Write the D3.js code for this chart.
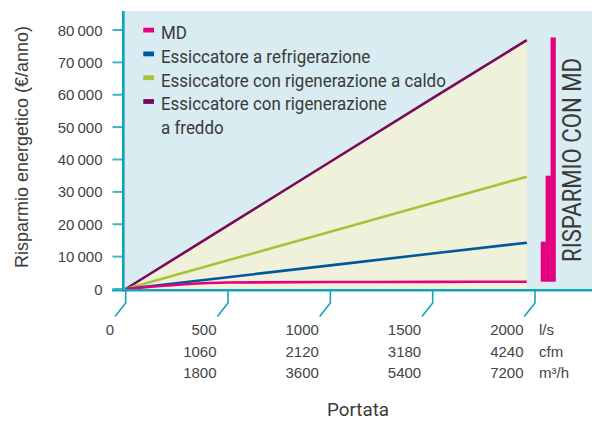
<!DOCTYPE html>
<html><head><meta charset="utf-8">
<script src="https://cdn.jsdelivr.net/npm/d3@7"></script>
<style>
html,body{margin:0;padding:0;background:#fff;}
svg{display:block;}
</style></head>
<body>
<script>
// ---- data ----
const flowLs = [0, 500, 1000, 1500, 1960];
const mdValues = [0, 2000, 2150, 2200, 2250];
const refrigValues = [0, 3650, 7300, 10950, 14300];
const caldoValues = [0, 8850, 17700, 26550, 34700];
const freddoValues = [0, 19650, 39300, 58950, 76900];
const seriesNames = ["MD", "Essiccatore a refrigerazione", "Essiccatore con rigenerazione a caldo", "Essiccatore con rigenerazione\na freddo"];
const seriesColors = ["#e5007d", "#00589b", "#a9c23a", "#780a5a"];
const barCategories = ["refrigerazione", "caldo", "freddo"];
const barTops = [14600, 35000, 77700];
const barBase = 2250;
const yTicks = [0, 10000, 20000, 30000, 40000, 50000, 60000, 70000, 80000];
const xTicks = [0, 500, 1000, 1500, 2000];
const xLabelsLs = ["0", "500", "1000", "1500", "2000"];
const xLabelsCfm = ["", "1060", "2120", "3180", "4240"];
const xLabelsM3h = ["", "1800", "3600", "5400", "7200"];
const unitLabels = ["l/s", "cfm", "m³/h"];

const W = 592, H = 421;
const svg = d3.select("body").append("svg").attr("width", W).attr("height", H);

const x = d3.scaleLinear().domain([0, 2000]).range([125.7, 535]);
const y = d3.scaleLinear().domain([0, 80000]).range([289, 30]);
const teal = "#17a3b6";
const textCol = "#3a3a3a";
const narrow = "Roboto,'Liberation Sans',sans-serif";
const regular = "'Liberation Sans',Arial,sans-serif";

// plot background
svg.append("rect").attr("x", 124).attr("y", 11).attr("width", W - 124).attr("height", 290 - 11).attr("fill", "#d8ecf1");

// beige area under top series
const area = d3.area().x((d, i) => x(flowLs[i])).y0(290).y1(d => y(d));
svg.append("path").datum(freddoValues).attr("d", area).attr("fill", "#eff1da");

// lines
const allSeries = [mdValues, refrigValues, caldoValues, freddoValues];
[3, 2, 1, 0].forEach(k => {
  const gen = d3.line().x((d, i) => x(flowLs[i])).y(d => y(d));
  if (k === 0) gen.curve(d3.curveMonotoneX);
  svg.append("path").datum(allSeries[k]).attr("d", gen)
    .attr("fill", "none").attr("stroke", seriesColors[k]).attr("stroke-width", 2.6);
});

// savings bars
const xb = d3.scaleBand().domain(barCategories).range([540.7, 555.5]).padding(0);
svg.selectAll("rect.bar").data(barTops).enter().append("rect")
  .attr("x", (d, i) => xb(barCategories[i]))
  .attr("width", xb.bandwidth() + 0.3)
  .attr("y", d => y(d))
  .attr("height", d => y(barBase) - y(d))
  .attr("fill", "#e5007d");

// RISPARMIO CON MD (condensed by horizontal scaling along its direction)
const rt = svg.append("text").attr("text-anchor", "middle").attr("font-family", narrow).attr("font-size", 25)
  .attr("fill", textCol).text("RISPARMIO CON MD");
const rLen = rt.node().getComputedTextLength();
rt.attr("transform", `translate(580.5,160) rotate(-90) scale(${204 / rLen},1)`);

// axes lines
svg.append("line").attr("x1", 123.3).attr("x2", 123.3).attr("y1", 11).attr("y2", 291.5).attr("stroke", teal).attr("stroke-width", 2.7);
svg.append("line").attr("x1", 112).attr("x2", W).attr("y1", 290.3).attr("y2", 290.3).attr("stroke", teal).attr("stroke-width", 2.4);

// y ticks
const fmt = v => v === 0 ? "0" : d3.format(",")(v).replace(",", "\u2009");
yTicks.forEach(t => {
  svg.append("line").attr("x1", 112.5).attr("x2", 122).attr("y1", y(t)).attr("y2", y(t)).attr("stroke", "#3db4c4").attr("stroke-width", 2);
  svg.append("text").attr("x", 102.5).attr("y", y(t) + 5.5).attr("text-anchor", "end")
    .attr("font-family", regular).attr("font-size", 15).attr("fill", "#444").text(fmt(t));
});

// x ticks with leaders
xTicks.forEach((t, i) => {
  const tx = x(t);
  svg.append("path").attr("d", `M${tx},291 L${tx},303 L${tx - 10.7},316.5`)
    .attr("fill", "none").attr("stroke", teal).attr("stroke-width", 1.6);
  const rows = [xLabelsLs[i], xLabelsCfm[i], xLabelsM3h[i]];
  rows.forEach((lab, r) => {
    if (!lab) return;
    const isZero = t === 0;
    svg.append("text")
      .attr("x", isZero ? tx - 15.7 : tx - 11.5)
      .attr("y", 335 + r * 21.7)
      .attr("text-anchor", isZero ? "middle" : "end")
      .attr("font-family", regular).attr("font-size", 15).attr("fill", "#444").text(lab);
  });
});
unitLabels.forEach((u, r) => {
  svg.append("text").attr("x", 539).attr("y", 335 + r * 21.7)
    .attr("font-family", regular).attr("font-size", 15).attr("fill", "#444").text(u);
});

// axis titles
const pt = svg.append("text").attr("text-anchor", "middle")
  .attr("font-family", narrow).attr("font-size", 19).attr("fill", textCol).text("Portata");
const pLen = pt.node().getComputedTextLength();
pt.attr("transform", `translate(358,416) scale(${62 / pLen},1)`);
svg.append("text").attr("transform", "translate(27.5,147) rotate(-90)").attr("text-anchor", "middle")
  .attr("font-family", regular).attr("font-size", 18).attr("fill", textCol).text("Risparmio energetico (€/anno)");

// legend
const legendTexts = [];
let row = 0;
seriesNames.forEach((name, k) => {
  const lines = name.split("\n");
  const by = 39 + row * 23.8;
  svg.append("rect").attr("x", 143.3).attr("y", by - 11.3).attr("width", 10.7).attr("height", 4.8).attr("fill", seriesColors[k]);
  lines.forEach((ln, j) => {
    const t = svg.append("text").attr("data-y", 39 + (row + j) * 23.8)
      .attr("font-family", narrow).attr("font-size", 18).attr("fill", textCol).text(ln);
    legendTexts.push(t);
  });
  row += lines.length;
});
const refLen = legendTexts[2].node().getComputedTextLength();
const sx = 285 / refLen;
legendTexts.forEach(t => t.attr("transform", `translate(161,${t.attr("data-y")}) scale(${sx},1)`));
</script>
</body></html>
